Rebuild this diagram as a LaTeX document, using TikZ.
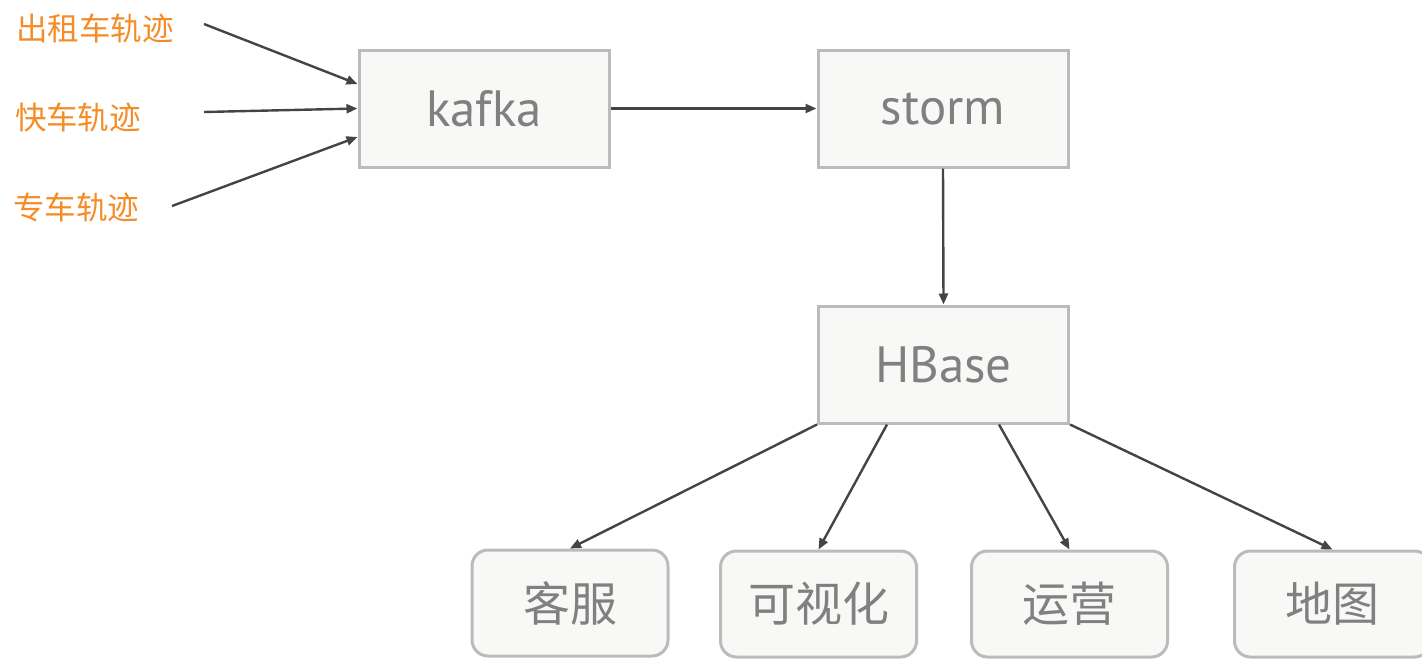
\documentclass[tikz,border=0pt]{standalone}
\usepackage{fontspec}
\setmainfont{PT Sans}
\newfontfamily\cjk{Noto Sans CJK SC}
\usetikzlibrary{arrows.meta,calc}
\definecolor{boxfill}{RGB}{248,248,246}
\definecolor{boxdraw}{RGB}{187,187,187}
\definecolor{txtgray}{RGB}{128,128,128}
\definecolor{arr}{RGB}{68,68,68}
\definecolor{lblorange}{RGB}{244,140,40}
\tikzset{
  sqbox/.style={draw=boxdraw, line width=3pt, fill=boxfill, minimum width=250pt, minimum height=117pt, inner sep=0pt, text=txtgray, font=\fontsize{51}{55}\selectfont},
  rbox/.style={draw=boxdraw, line width=3pt, fill=boxfill, rounded corners=16pt, minimum width=196pt, minimum height=106pt, inner sep=0pt, text=txtgray, font=\cjk\fontsize{47}{50}\selectfont},
  lbl/.style={text=lblorange, font=\cjk\fontsize{31.5}{34}\selectfont, inner sep=0pt},
  conn/.style={draw=arr, line width=2.4pt, -{Triangle[length=11pt,width=9pt]}}
}
\begin{document}
\begin{tikzpicture}[x=1pt,y=-1pt]
\useasboundingbox (0,0) rectangle (1422,659);
\node[lbl] (l1) at (95,29) {出租车轨迹};
\node[lbl] (l2) at (78,118) {快车轨迹};
\node[lbl] (l3) at (76,208) {专车轨迹};
\coordinate (s1) at (204,24);
\coordinate (s2) at (204,112);
\coordinate (s3) at (172,206);
\node[sqbox] (kafka) at (484,108.5) {kafka};
\node[sqbox] (storm) at (943,108.5) {storm};
\node[sqbox] (hbase) at (943.5,364.5) {HBase};
\node[rbox] (kf) at (570,603) {客服};
\node[rbox] (ksh) at (818.5,604) {可视化};
\node[rbox] (yy) at (1069.5,604) {运营};
\node[rbox] (dt) at (1332.5,604) {地图};
\draw[conn] (s1) -- ([yshift=24.5pt]kafka.west);
\draw[conn] (s2) -- (kafka.west);
\draw[conn] (s3) -- ([yshift=-28.5pt]kafka.west);
\draw[conn] (kafka.east) -- (storm.west);
\draw[conn] (storm.south) -- (hbase.north);
\draw[conn] (hbase.south west) -- (kf.north);
\draw[conn] ([xshift=70pt]hbase.south west) -- (ksh.north);
\draw[conn] ([xshift=-71pt]hbase.south east) -- (yy.north);
\draw[conn] (hbase.south east) -- (dt.north);
\end{tikzpicture}
\end{document}
